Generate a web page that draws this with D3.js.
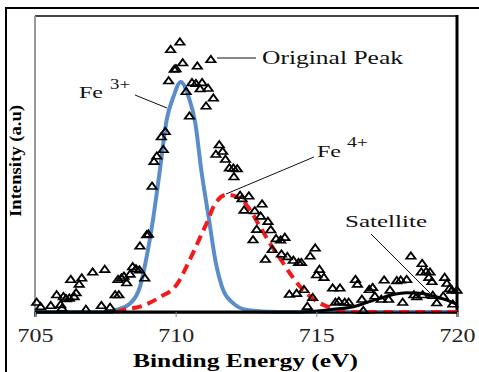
<!DOCTYPE html>
<html>
<head>
<meta charset="utf-8">
<script src="https://cdn.jsdelivr.net/npm/d3@7"></script>
<style>
  body { margin: 0; background: #fff; }
  svg { display: block; }
  text { font-family: "Liberation Serif", "Times New Roman", serif; }
</style>
</head>
<body>
<div id="chart"></div>
<script>
// measured spectrum (binding energy eV, intensity a.u.)
var peakE = [705.06,705.20,705.56,705.77,705.91,705.96,706.01,706.10,706.22,706.39,706.46,706.27,706.57,706.66,706.81,
  707.05,707.48,707.36,707.67,707.85,707.98,707.95,708.07,708.16,708.26,708.38,708.47,708.59,708.71,708.90,708.73,
  708.97,709.03,709.16,709.23,709.33,709.56,709.49,709.63,709.75,709.82,710.15,710.01,709.95,710.25,710.49,710.37,
  710.58,710.77,711.25,710.72,710.94,710.87,711.15,711.34,711.08,711.55,711.43,711.67,711.77,711.91,712.05,712.19,
  712.07,712.29,712.60,712.36,713.07,712.43,712.81,713.02,713.28,712.88,713.38,712.75,713.57,713.73,713.88,713.43,
  713.76,713.97,714.18,714.37,714.47,713.19,714.96,714.78,715.11,715.01,715.27,714.04,714.30,714.56,714.87,714.68,
  715.58,715.84,715.68,715.80,716.01,716.15,716.39,716.46,716.62,716.67,716.88,717.00,717.08,717.41,717.57,717.31,
  717.62,718.07,717.86,718.00,718.21,718.36,718.76,718.73,718.90,719.04,719.00,719.11,718.47,718.57,718.78,719.14,
  719.28,719.56,719.64,719.73,719.82,720.00,719.85,719.51];
var peakI = [3.1,1.6,2.0,5.6,2.3,1.1,5.0,4.3,4.5,5.0,6.3,10.8,9.2,11.3,0.7,
  13.3,14.2,2.0,1.4,5.6,5.6,10.8,11.3,11.9,9.7,12.6,15.1,14.4,14.0,11.3,22.1,
  25.9,26.1,42.3,50.7,52.5,54.7,59.0,60.8,77.9,88.5,91.0,82.0,81.8,84.0,66.0,74.3,
  77.3,82.9,85.1,77.0,77.3,75.2,75.4,72.1,69.4,56.3,53.1,54.1,51.4,48.5,48.4,48.2,
  45.5,39.2,39.0,38.1,36.3,34.2,34.0,32.2,30.4,27.7,27.6,24.2,24.6,24.1,25.0,20.9,
  19.4,18.5,17.3,16.5,16.5,17.6,21.4,18.7,14.2,12.4,11.5,5.8,6.1,7.4,4.7,1.7,
  7.9,7.9,3.1,3.4,3.1,3.1,10.8,9.2,4.1,0.3,7.4,8.1,5.2,10.6,4.1,4.1,
  7.2,3.1,10.4,10.6,10.8,18.7,16.2,13.3,13.5,13.3,11.5,10.1,5.6,5.0,5.6,5.4,
  2.9,11.5,9.5,7.7,7.2,7.2,2.5,5.2];

// fitted components
var fe3E = [705.0,707.70,707.90,708.38,708.73,708.97,709.21,709.44,709.68,709.92,710.18,710.46,710.70,710.91,711.17,711.43,711.69,712.05,712.53,713.3,714.0,720.0];
var fe3I = [0,0,0.7,2.9,8.5,18.7,32.2,48,64.9,72.7,77.7,72.7,63.7,48,32.2,16.5,7.4,2.9,0.7,0.1,0,0];

var fe4E = [707.90,708.14,708.73,709.44,710.04,710.51,710.87,711.17,711.34,711.81,712.29,712.64,713.00,713.35,713.71,714.06,714.42,714.78,715.25,715.60,716.02,720.0];
var fe4I = [0,0.7,1.8,5.0,9.3,17.8,25.2,31.5,35.5,39.6,38.4,34.5,28.8,23.2,18.1,13.1,8.6,5.2,2.4,1.2,0,0];

var satE = [705.0,714.42,715.60,716.32,716.79,717.26,717.74,718.21,718.69,719.16,719.64,720.0];
var satI = [0,0,0.9,1.8,3.2,4.6,5.9,6.5,6.3,5.4,4.0,2.6];

var xTicks = [705, 710, 715, 720];

(function () {
var W = 479, H = 372;
var svg = d3.select("#chart").append("svg")
    .attr("width", W)
    .attr("height", H);

// outer frame
svg.append("rect")
    .attr("x", 6).attr("y", 8)
    .attr("width", W + 10).attr("height", H + 10)
    .attr("fill", "none")
    .attr("stroke", "#000")
    .attr("stroke-width", 2);

var pL = 35, pR = 457, pT = 16, pB = 312;
var x = d3.scaleLinear().domain([705, 720]).range([pL, pR]);
var y = d3.scaleLinear().domain([0, 100]).range([pB, pT]);

// plot frame
svg.append("line").attr("x1", pL).attr("x2", pR).attr("y1", pT).attr("y2", pT)
    .attr("stroke", "#444").attr("stroke-width", 2);
svg.append("line").attr("x1", pR).attr("x2", pR).attr("y1", pT - 1).attr("y2", pB)
    .attr("stroke", "#000").attr("stroke-width", 3);
svg.append("line").attr("x1", pL).attr("x2", pL).attr("y1", pT).attr("y2", pB + 4)
    .attr("stroke", "#999").attr("stroke-width", 2);

var line = function (xs, ys) {
    return d3.line().curve(d3.curveMonotoneX)(xs.map(function (e, i) { return [x(e), y(ys[i])]; }));
};

svg.append("path")
    .attr("d", line(fe3E, fe3I))
    .attr("fill", "none")
    .attr("stroke", "#5b8ec9")
    .attr("stroke-width", 4);

svg.append("path")
    .attr("d", line(fe4E, fe4I))
    .attr("fill", "none")
    .attr("stroke", "#f21a1a")
    .attr("stroke-width", 4)
    .attr("stroke-dasharray", "10,6");

svg.append("path")
    .attr("d", line(satE, satI))
    .attr("fill", "none")
    .attr("stroke", "#000")
    .attr("stroke-width", 3);

// x axis
var xAxis = svg.append("g")
    .attr("transform", "translate(0," + pB + ")")
    .call(d3.axisBottom(x).tickValues(xTicks).tickSize(5).tickFormat(d3.format("d")));
xAxis.select(".domain").attr("stroke", "#000").attr("stroke-width", 2);
xAxis.selectAll(".tick line").attr("stroke", "#888");
xAxis.selectAll(".tick text")
    .attr("y", 17)
    .attr("dy", "0.71em")
    .attr("font-family", "Liberation Serif, serif")
    .attr("font-size", 18)
    .attr("fill", "#222")
    .attr("textLength", 36)
    .attr("lengthAdjust", "spacingAndGlyphs");

// data markers
var tri = d3.symbol(d3.symbolTriangle, 24);
svg.append("g").selectAll("path")
    .data(peakE)
    .join("path")
    .attr("d", tri)
    .attr("transform", function (e, i) {
        return "translate(" + x(e) + "," + y(peakI[i]) + ") scale(1.25,1)";
    })
    .attr("fill", "none")
    .attr("stroke", "#000")
    .attr("stroke-width", 1.6);

// titles
svg.append("text")
    .attr("x", 133).attr("y", 367)
    .attr("font-family", "Liberation Serif, serif")
    .attr("font-weight", "bold")
    .attr("font-size", 18)
    .attr("textLength", 225)
    .attr("lengthAdjust", "spacingAndGlyphs")
    .text("Binding Energy (eV)");

svg.append("text")
    .attr("transform", "translate(21,217) rotate(-90)")
    .attr("font-family", "Liberation Serif, serif")
    .attr("font-weight", "bold")
    .attr("font-size", 16)
    .attr("textLength", 112)
    .attr("lengthAdjust", "spacingAndGlyphs")
    .text("Intensity (a.u)");

// annotations
function label(x0, y0, txt, size, len) {
    return svg.append("text")
        .attr("x", x0).attr("y", y0)
        .attr("font-family", "Liberation Serif, serif")
        .attr("font-size", size)
        .attr("fill", "#111")
        .attr("textLength", len)
        .attr("lengthAdjust", "spacingAndGlyphs")
        .text(txt);
}
function leader(x1, y1, x2, y2) {
    svg.append("line")
        .attr("x1", x1).attr("y1", y1).attr("x2", x2).attr("y2", y2)
        .attr("stroke", "#111").attr("stroke-width", 1);
}

label(262, 64, "Original Peak", 18, 141);
leader(217, 58, 256, 58);

label(79, 98, "Fe", 17, 24);
label(110, 89, "3+", 14, 20);
leader(135, 95, 167, 108);

label(317, 157, "Fe", 17, 24);
label(347, 147, "4+", 14, 21);
leader(314, 157, 226, 194);

label(345, 227, "Satellite", 17.5, 82);
leader(371, 234, 430, 293);
})();
</script>
</body>
</html>
